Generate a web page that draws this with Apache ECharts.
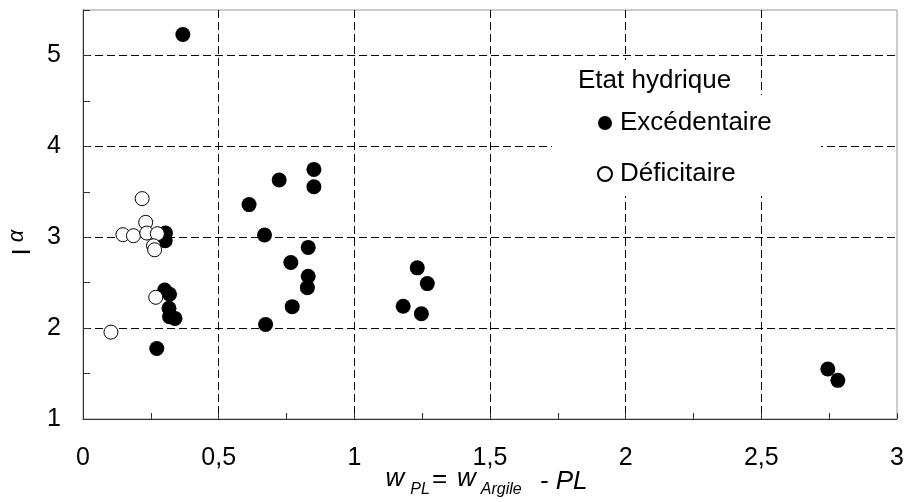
<!DOCTYPE html>
<html>
<head>
<meta charset="utf-8">
<script src="https://cdn.jsdelivr.net/npm/echarts@6/dist/echarts.min.js"></script>
<style>html,body{margin:0;padding:0;background:#fff}#c{width:907px;height:502px}</style>
</head>
<body>
<div id="c"></div>
<script>
// ---- data ----
var seriesNames = ['Excédentaire', 'Déficitaire'];
var legendTitle = 'Etat hydrique';
var excX = [0.368, 0.851, 0.723, 0.851, 0.612, 0.669, 0.830, 0.766, 0.830, 0.827, 0.771, 0.673, 0.304, 0.303, 0.301, 0.319, 0.317, 0.319, 0.339, 0.272, 1.232, 1.269, 1.180, 1.247, 2.745, 2.782];
var excY = [5.23, 3.746, 3.63, 3.555, 3.359, 3.024, 2.888, 2.722, 2.571, 2.445, 2.236, 2.04, 3.046, 2.961, 2.42, 2.372, 2.218, 2.125, 2.107, 1.775, 2.663, 2.49, 2.24, 2.158, 1.55, 1.425];
var defX = [0.218, 0.231, 0.147, 0.186, 0.235, 0.274, 0.260, 0.264, 0.268, 0.103];
var defY = [3.425, 3.164, 3.028, 3.017, 3.046, 3.039, 2.906, 2.862, 2.339, 1.956];
var xTickLabels = ['0', '0,5', '1', '1,5', '2', '2,5', '3'];
var yTickLabels = ['1', '2', '3', '4', '5'];

// ---- build ----
function zip(a, b) { return a.map(function (v, i) { return [v, b[i]]; }); }
var FONT = 'Liberation Sans, Arial, sans-serif';
var xColors = [];
for (var i = 0; i <= 12; i++) xColors.push(i % 2 === 0 && i < 12 ? '#000' : 'rgba(0,0,0,0)');

function tok(size, italic, pad) {
  return { fontSize: size, fontStyle: italic ? 'italic' : 'normal', fontFamily: FONT, color: '#000', lineHeight: size, verticalAlign: 'top', padding: pad };
}

var chart = echarts.init(document.getElementById('c'), null, { renderer: 'canvas' });
chart.setOption({
  animation: false,
  backgroundColor: '#fff',
  textStyle: { fontFamily: FONT },
  grid: { left: 83, right: 10, top: 10, bottom: 83, show: true, borderColor: '#999', borderWidth: 1, backgroundColor: 'transparent', containLabel: false, outerBoundsMode: 'none' },
  xAxis: {
    type: 'value', min: 0, max: 3, interval: 0.25,
    axisLine: { lineStyle: { color: '#333', width: 1 } },
    axisTick: { inside: true, length: 6, lineStyle: { color: '#333' } },
    axisLabel: {
      margin: 27, fontSize: 25, color: '#000', fontFamily: FONT,
      formatter: function (v) { var k = Math.round(v / 0.5); return Math.abs(k * 0.5 - v) < 1e-6 ? xTickLabels[k] : ''; }
    },
    splitLine: { show: true, lineStyle: { color: xColors, type: [8, 4], width: 1 } },
    name: '{w|w}{s1|PL}{e|=}{w2|w}{s2|Argile}{p|- PL}',
    nameLocation: 'middle', nameGap: 47, nameMoveOverlap: false,
    nameTextStyle: {
      rich: {
        w: tok(26, true, [0, 0, 0, 0]),
        s1: tok(16, true, [16, 0, 0, 6]),
        e: tok(26, false, [1, 0, 0, 2]),
        w2: tok(26, true, [0, 0, 0, 10]),
        s2: tok(16, true, [16, 0, 0, 5]),
        p: tok(26, true, [3, 7, 0, 18])
      }
    }
  },
  yAxis: {
    type: 'value', min: 1, max: 5.5, interval: 0.5,
    axisLine: { show: true, lineStyle: { color: '#333', width: 1 } },
    axisTick: { show: true, inside: true, length: 7, lineStyle: { color: '#333' } },
    axisLabel: {
      margin: 22, fontSize: 25, color: '#000', fontFamily: FONT,
      formatter: function (v) { var k = Math.round(v); return Math.abs(k - v) < 1e-6 ? yTickLabels[k - 1] : ''; }
    },
    splitLine: { show: true, lineStyle: { color: ['#000', 'rgba(0,0,0,0)'], type: [8, 4], width: 1 } },
    name: '{i|I}{a|α}',
    nameLocation: 'middle', nameGap: 51, nameRotate: 90, nameMoveOverlap: false,
    nameTextStyle: {
      rich: {
        i: tok(26, false, [4, 0, 0, 0]),
        a: tok(22, true, [0, 56, 0, 6])
      }
    }
  },
  legend: {
    orient: 'vertical', left: 597, top: 108, padding: 0,
    itemWidth: 14, itemHeight: 14, itemGap: 21, icon: 'circle',
    textStyle: { fontSize: 26, color: '#000', fontFamily: FONT, lineHeight: 30, padding: [0, 0, 0, 3] },
    data: seriesNames
  },
  graphic: [
    { type: 'rect', shape: { x: 570, y: 60, width: 180, height: 40 }, style: { fill: '#fff' }, z: 1 },
    { type: 'rect', shape: { x: 552, y: 95, width: 269, height: 101 }, style: { fill: '#fff' }, z: 1 },
    { type: 'text', x: 578, y: 81, z: 5, style: { text: legendTitle, fontSize: 26, fontFamily: FONT, fill: '#000', verticalAlign: 'middle' } }
  ],
  series: [
    {
      name: seriesNames[0], type: 'scatter', symbol: 'circle', symbolSize: 15,
      itemStyle: { color: '#000', opacity: 1 },
      data: zip(excX, excY), z: 3
    },
    {
      name: seriesNames[1], type: 'scatter', symbol: 'circle', symbolSize: 14,
      itemStyle: { color: '#fff', borderColor: '#000', borderWidth: 1, opacity: 1 },
      data: zip(defX, defY), z: 4
    }
  ]
});
</script>
</body>
</html>
